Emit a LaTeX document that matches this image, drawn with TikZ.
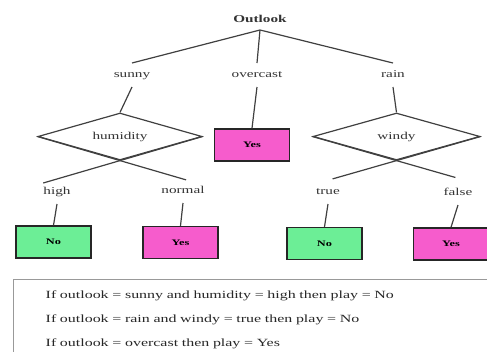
\documentclass[tikz,border=0pt]{standalone}
\usepackage{fontspec}
\setmainfont{Liberation Serif}[FakeStretch=1.45]
\usepackage{xcolor}
\usepackage{tikz}
\usetikzlibrary{shapes.geometric,calc}

\definecolor{leafgreen}{RGB}{108,238,150}
\definecolor{leafpink}{RGB}{246,92,204}

\begin{document}
\begin{tikzpicture}[
        x=1pt, y=-1pt,
        branch/.style = {draw=black!75, line width=1.2pt},
        lbl/.style = {font=\fontsize{10.5}{12}\selectfont, text=black!80, inner xsep=2pt, inner ysep=4pt, outer sep=3pt, text height=7.5pt, text depth=2.5pt},
        test/.style = {diamond, aspect=3.5, draw=black!75, line width=1.2pt, inner sep=0pt, minimum height=47pt, font=\fontsize{10.5}{12}\selectfont, text=black!80},
        leaf/.style = {draw=black!85, line width=1.4pt, rectangle, minimum width=75pt, minimum height=32pt, font=\bfseries\fontsize{8.5}{10}\selectfont},
        rules/.style = {draw=black!40, line width=1.4pt, rectangle, inner xsep=32pt, inner ysep=11pt, text width=420pt, align=left, font=\fontsize{11}{24}\selectfont, text=black!85}
    ]
    \clip (0,0) rectangle (487,351);

    % Root
    \node[lbl, font=\bfseries\fontsize{10.5}{12}\selectfont, outer sep=1pt] (outlook) at (260,20) {Outlook};

    % Outlook values
    \node[lbl] (sunny) at (132,75) {sunny};
    \node[lbl] (overcast) at (257,75) {overcast};
    \node[lbl] (rain) at (393,75) {rain};

    % Tests and first leaf
    \node[test, minimum width=164pt] (hum) at (120,136.5) {humidity};
    \node[leaf, fill=leafpink] (yes1) at (252,145) {Yes};
    \node[test, minimum width=167pt] (windy) at (396.5,136.5) {windy};

    % Test values
    \node[lbl] (high) at (57,192) {high};
    \node[lbl] (normal) at (183,191) {normal};
    \node[lbl] (true) at (328,192) {true};
    \node[lbl] (false) at (458,193) {false};

    % Leaves
    \node[leaf, fill=leafgreen] (no1) at (53.5,242) {No};
    \node[leaf, fill=leafpink] (yes2) at (180.5,242.5) {Yes};
    \node[leaf, fill=leafgreen] (no2) at (324.5,243.5) {No};
    \node[leaf, fill=leafpink] (yes3) at (451,244) {Yes};

    % Ends of the crossing lines
    \coordinate (humL) at ($(hum.east)!1.93!(hum.south)$);
    \coordinate (humR) at ($(hum.west)!1.8!(hum.south)$);
    \coordinate (windyL) at ($(windy.east)!1.76!(windy.south)$);
    \coordinate (windyR) at ($(windy.west)!1.7!(windy.south)$);

    % Branches
    \draw[branch] (outlook.south) -- (sunny.north);
    \draw[branch] (outlook.south) -- (overcast.north);
    \draw[branch] (outlook.south) -- (rain.north);
    \draw[branch] (sunny.south) -- (hum.north);
    \draw[branch] (overcast.south) -- (yes1.north);
    \draw[branch] (rain.south) -- (windy.north);
    \draw[branch] (hum.east) -- (humL);
    \draw[branch] (hum.west) -- (humR);
    \draw[branch] (windy.east) -- (windyL);
    \draw[branch] (windy.west) -- (windyR);
    \draw[branch] (high.south) -- (no1.north);
    \draw[branch] (normal.south) -- (yes2.north);
    \draw[branch] (true.south) -- (no2.north);
    \draw[branch] (false.south) -- (yes3.north);

    % Rules read off the tree
    \node[rules, anchor=north west] (rulebox) at (13,279) {If outlook = sunny and humidity = high then play = No\\
        If outlook = rain and windy = true then play = No\\
        If outlook = overcast then play = Yes};
\end{tikzpicture}
\end{document}
